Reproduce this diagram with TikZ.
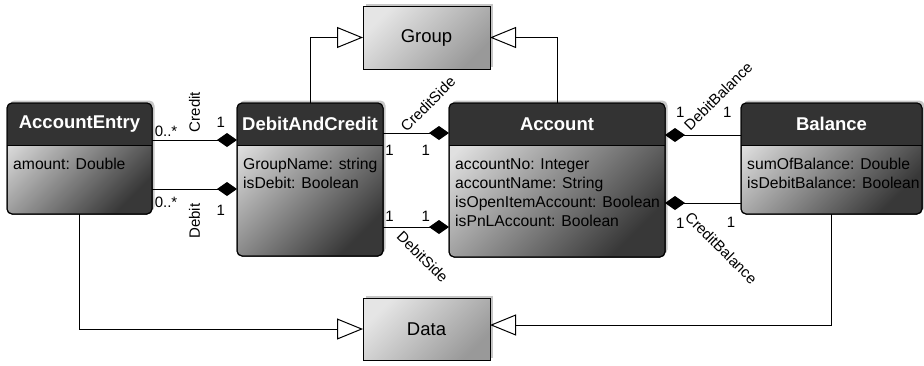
\documentclass[tikz,border=0pt]{standalone}
\usepackage{fontspec}
\setmainfont{Liberation Sans}
\usetikzlibrary{arrows.meta,shadows}

\begin{document}
\begin{tikzpicture}[x=1pt,y=-1pt,
  cls/.style={draw,line width=1,outer sep=0,rounded corners=5,top color=black!12,bottom color=black!78,shading angle=45,
    drop shadow={opacity=.45,shadow xshift=2.5,shadow yshift=-2.5}},
  parent/.style={draw,line width=1,outer sep=0,top color=black!10,bottom color=black!40,shading angle=45,
    drop shadow={opacity=.45,shadow xshift=2.5,shadow yshift=-2.5},font=\fontsize{18.5}{20}\selectfont},
  head/.style={text=white,font=\bfseries\fontsize{18.5}{20}\selectfont},
  attr/.style={anchor=north west,inner sep=0,align=left,font=\fontsize{15.7}{19.3}\selectfont},
  lbl/.style={inner sep=1,font=\fontsize{15}{15}\selectfont},
  comp/.style={line width=1,-{Diamond[length=20,width=14]}},
  gen/.style={line width=1,-{Triangle[open,length=26,width=21,fill=white]}}]
\useasboundingbox (0,0) rectangle (924,365);

% superclasses
\node[parent,minimum width=127,minimum height=63] (group) at (426.5,37.5) {Group};
\node[parent,minimum width=127,minimum height=62] (data) at (426.5,329) {Data};

% classes
\node[cls,minimum width=145,minimum height=111] (entry) at (79.5,158.5) {};
\node[cls,minimum width=146,minimum height=153] (dc) at (310,179.5) {};
\node[cls,minimum width=216,minimum height=154] (acct) at (557,180) {};
\node[cls,minimum width=181,minimum height=111] (bal) at (831.5,158.5) {};

\foreach \cname/\ctitle/\cattr in {entry/AccountEntry/{amount: Double},
    dc/DebitAndCredit/{GroupName: string\\isDebit: Boolean},
    acct/Account/{accountNo: Integer\\accountName: String\\isOpenItemAccount: Boolean\\isPnLAccount: Boolean},
    bal/Balance/{sumOfBalance: Double\\isDebitBalance: Boolean}}{
  \begin{scope}
    \clip[rounded corners=5] (\cname.north west) rectangle (\cname.south east);
    \fill[black!80] (\cname.north west) rectangle ([yshift=-42]\cname.north east);
  \end{scope}
  \draw[line width=1,rounded corners=5] (\cname.north west) rectangle (\cname.south east);
  \draw[line width=1] ([yshift=-42]\cname.north west) -- ([yshift=-42]\cname.north east);
  \node[head] at ([yshift=-21]\cname.north) {\ctitle};
  \node[attr] at ([xshift=6,yshift=-55]\cname.north west) {\cattr};
}

% inheritance
\draw[gen] (dc.north) |- (group.west);
\draw[gen] (acct.north) |- (group.east);
\draw[gen] (entry.south) |- (data.west);
\draw[gen] (bal.south) |- ([yshift=4]data.east);

% compositions
\draw[comp] ([yshift=-37]entry.north east) -- ([yshift=-37]dc.north west)
  node[lbl,pos=.165,yshift=9] {0..*}
  node[lbl,pos=.5,yshift=28,rotate=90] {Credit}
  node[lbl,pos=.81,yshift=18] {1};
\draw[comp] ([yshift=-86]entry.north east) -- ([yshift=-86]dc.north west)
  node[lbl,pos=.165,yshift=-13] {0..*}
  node[lbl,pos=.5,yshift=-32,rotate=90] {Debit}
  node[lbl,pos=.81,yshift=-21] {1};
\draw[comp] ([yshift=-30]dc.north east) -- ([yshift=-30]acct.north west)
  node[lbl,pos=.1,yshift=-17] {1}
  node[lbl,pos=.65,yshift=-17] {1}
  node[lbl,pos=.68,yshift=29,rotate=45] {CreditSide};
\draw[comp] ([yshift=-124]dc.north east) -- ([yshift=-124]acct.north west)
  node[lbl,pos=.1,yshift=11] {1}
  node[lbl,pos=.65,yshift=11] {1}
  node[lbl,pos=.6,yshift=-30,rotate=-45] {DebitSide};
\draw[comp] ([yshift=-32]bal.north west) -- ([yshift=-32]acct.north east)
  node[lbl,pos=.18,yshift=23] {1}
  node[lbl,pos=.8,yshift=23] {1}
  node[lbl,pos=.3,yshift=39,rotate=45] {DebitBalance};
\draw[comp] ([yshift=-100]bal.north west) -- ([yshift=-100]acct.north east)
  node[lbl,pos=.13,yshift=-19] {1}
  node[lbl,pos=.8,yshift=-20] {1}
  node[lbl,pos=.26,yshift=-45,rotate=-45] {CreditBalance};
\end{tikzpicture}
\end{document}
